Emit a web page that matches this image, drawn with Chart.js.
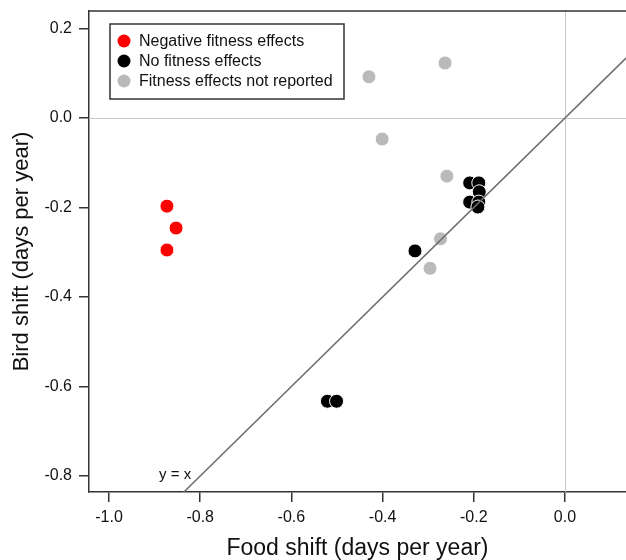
<!DOCTYPE html>
<html>
<head>
<meta charset="utf-8">
<script src="https://cdn.jsdelivr.net/npm/chart.js@4/dist/chart.umd.min.js"></script>
<style>
    html, body { margin: 0; padding: 0; background: #fff; overflow: hidden; }
    #wrap { position: relative; width: 626px; height: 560px; }
    #chart { display: block; }
</style>
</head>
<body>
<div id="wrap"><canvas id="chart"></canvas></div>
<script>
// Data (days per year)
const negFoodShift = [-0.873, -0.853, -0.873];
const negBirdShift = [-0.197, -0.246, -0.295];

const noFoodShift = [-0.329, -0.521, -0.501, -0.209, -0.189, -0.188, -0.209, -0.189, -0.191];
const noBirdShift = [-0.297, -0.633, -0.633, -0.145, -0.145, -0.165, -0.188, -0.188, -0.199];

const naFoodShift = [-0.430, -0.263, -0.401, -0.259, -0.273, -0.296];
const naBirdShift = [0.092, 0.123, -0.047, -0.130, -0.270, -0.336];

const seriesLabels = ['Negative fitness effects', 'No fitness effects', 'Fitness effects not reported'];
const seriesColors = ['#ff0000', '#000000', '#bababa'];

const xTicks = [-1.0, -0.8, -0.6, -0.4, -0.2, 0.0];
const yTicks = [-0.8, -0.6, -0.4, -0.2, 0.0, 0.2];

// y = x reference line ends, and where its label sits
const refLine = [-1.1, 0.2];
const refLabel = { text: 'y = x', x: -0.855, y: -0.797 };

const toPoints = (xs, ys) => xs.map((x, i) => ({ x: x, y: ys[i] }));

const pointStyle = color => ({
    showLine: false,
    pointRadius: 7,
    pointBackgroundColor: color,
    pointBorderColor: '#ffffff',
    pointBorderWidth: 1
});

// Zero lines, top frame line, y = x label and the boxed legend
const decorations = {
    id: 'decorations',
    beforeDatasetsDraw(chart) {
        const { ctx, chartArea: a, scales: { x, y } } = chart;
        ctx.save();
        ctx.strokeStyle = '#c8c8c8';
        ctx.lineWidth = 1;
        const x0 = Math.round(x.getPixelForValue(0)) + 0.5;
        const y0 = Math.round(y.getPixelForValue(0)) + 0.5;
        ctx.beginPath();
        ctx.moveTo(x0, a.top); ctx.lineTo(x0, a.bottom);
        ctx.moveTo(a.left, y0); ctx.lineTo(a.right, y0);
        ctx.stroke();
        ctx.restore();
    },
    afterDraw(chart) {
        const { ctx, chartArea: a, scales: { x, y } } = chart;
        ctx.save();
        // top frame
        ctx.strokeStyle = '#333';
        ctx.lineWidth = 1.5;
        ctx.beginPath();
        ctx.moveTo(a.left, a.top); ctx.lineTo(a.right, a.top);
        ctx.stroke();

        // y = x label
        ctx.fillStyle = '#111';
        ctx.font = '15px "Liberation Sans", Arial, sans-serif';
        ctx.textAlign = 'center';
        ctx.textBaseline = 'middle';
        ctx.fillText(refLabel.text, x.getPixelForValue(refLabel.x), y.getPixelForValue(refLabel.y));

        // legend box
        const bx = a.left + 21, by = a.top + 13, bw = 234, bh = 75;
        ctx.fillStyle = '#fff';
        ctx.fillRect(bx, by, bw, bh);
        ctx.strokeStyle = '#333';
        ctx.lineWidth = 1.5;
        ctx.strokeRect(bx, by, bw, bh);
        ctx.font = '16px "Liberation Sans", Arial, sans-serif';
        ctx.textAlign = 'left';
        seriesLabels.forEach((label, i) => {
            const cy = by + 17 + i * 20;
            ctx.beginPath();
            ctx.arc(bx + 14, cy, 6.5, 0, Math.PI * 2);
            ctx.fillStyle = seriesColors[i];
            ctx.fill();
            ctx.fillStyle = '#111';
            ctx.fillText(label, bx + 29, cy + 1);
        });
        ctx.restore();
    }
};

// keep the plot box fixed: no extra room for edge tick labels
const noEdgePadding = scale => {
    scale.paddingTop = 0;
    scale.paddingBottom = 0;
    scale.paddingLeft = 0;
    scale.paddingRight = 0;
};

const tickFont = { family: '"Liberation Sans", Arial, sans-serif', size: 16 };
const fontFamily = '"Liberation Sans", Arial, sans-serif';

new Chart(document.getElementById('chart'), {
    type: 'scatter',
    data: {
        datasets: [
            {
                label: 'y = x',
                data: toPoints(refLine, refLine),
                showLine: true,
                pointRadius: 0,
                borderColor: '#6e6e6e',
                borderWidth: 1.5
            },
            { label: seriesLabels[2], data: toPoints(naFoodShift, naBirdShift), ...pointStyle(seriesColors[2]) },
            { label: seriesLabels[1], data: toPoints(noFoodShift, noBirdShift), ...pointStyle(seriesColors[1]) },
            { label: seriesLabels[0], data: toPoints(negFoodShift, negBirdShift), ...pointStyle(seriesColors[0]) }
        ]
    },
    options: {
        responsive: true,
        maintainAspectRatio: false,
        animation: false,
        events: [],
        layout: { autoPadding: false, padding: { top: 11, right: 0, left: 0, bottom: 0 } },
        plugins: {
            legend: { display: false },
            tooltip: { enabled: false }
        },
        scales: {
            x: {
                type: 'linear',
                min: -1.0439,
                max: 0.1338,
                afterBuildTicks: scale => { scale.ticks = xTicks.map(v => ({ value: v })); },
                afterFit: scale => { scale.height = 68; noEdgePadding(scale); },
                ticks: {
                    color: '#111',
                    font: tickFont,
                    padding: 6,
                    maxRotation: 0,
                    autoSkip: false,
                    callback: v => v.toFixed(1)
                },
                grid: { drawOnChartArea: false, color: '#333', tickLength: 10, lineWidth: 1.5 },
                border: { display: true, color: '#333', width: 1.5 },
                title: {
                    display: true,
                    text: 'Food shift (days per year)',
                    color: '#111',
                    font: { family: fontFamily, size: 23, lineHeight: 1 },
                    padding: { top: 1, bottom: 0 }
                }
            },
            y: {
                type: 'linear',
                min: -0.8358,
                max: 0.2391,
                afterBuildTicks: scale => { scale.ticks = yTicks.map(v => ({ value: v })); },
                afterFit: scale => { scale.width = 89; noEdgePadding(scale); },
                ticks: {
                    color: '#111',
                    font: tickFont,
                    padding: 7,
                    autoSkip: false,
                    callback: v => v.toFixed(1)
                },
                grid: { drawOnChartArea: false, color: '#333', tickLength: 10, lineWidth: 1.5 },
                border: { display: true, color: '#333', width: 1.5 },
                title: {
                    display: true,
                    text: 'Bird shift (days per year)',
                    color: '#111',
                    font: { family: fontFamily, size: 22, lineHeight: 1 },
                    padding: { top: 11, bottom: 0 }
                }
            }
        }
    },
    plugins: [decorations]
});
</script>
</body>
</html>
